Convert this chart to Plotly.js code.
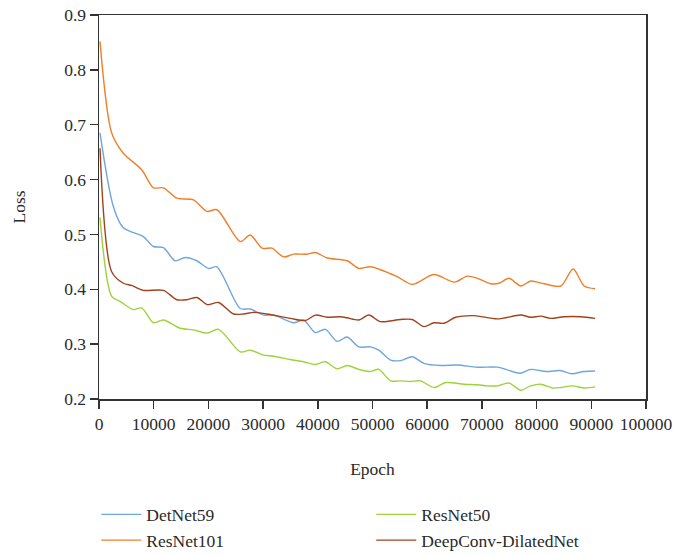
<!DOCTYPE html>
<html>
<head>
<meta charset="utf-8">
<script src="https://cdn.plot.ly/plotly-3.0.1.min.js"></script>
<style>html,body{margin:0;padding:0;background:#fff;}#chart{width:673px;height:555px;}</style>
</head>
<body>
<div id="chart"></div>
<script>
const detX = [180, 2620, 4450, 8110, 9950, 11780, 13920, 15750, 17880, 20020, 21550, 25820, 27650, 30090, 31920, 35580, 37410, 39560, 41390, 43530, 45360, 47500, 49630, 51150, 53300, 55130, 57270, 59400, 62450, 65500, 69170, 72830, 74650, 77000, 78930, 81870, 84300, 86450, 88600, 90700];
const detY = [0.685, 0.551, 0.512, 0.496, 0.478, 0.476, 0.452, 0.458, 0.452, 0.438, 0.441, 0.365, 0.364, 0.353, 0.353, 0.339, 0.344, 0.321, 0.327, 0.305, 0.313, 0.295, 0.295, 0.289, 0.271, 0.270, 0.277, 0.265, 0.261, 0.262, 0.258, 0.258, 0.253, 0.247, 0.254, 0.250, 0.252, 0.246, 0.250, 0.251];

const r101X = [180, 2320, 4450, 7800, 9950, 11780, 14230, 17270, 19720, 21550, 25820, 27650, 29800, 31630, 33750, 35580, 38040, 39560, 41700, 45360, 47500, 49630, 54520, 57270, 61230, 65010, 67340, 69170, 71610, 73130, 74960, 77100, 78930, 81370, 84430, 86680, 88700, 90700];
const r101Y = [0.852, 0.685, 0.648, 0.618, 0.585, 0.585, 0.566, 0.563, 0.542, 0.545, 0.487, 0.499, 0.475, 0.475, 0.459, 0.464, 0.464, 0.467, 0.457, 0.452, 0.438, 0.441, 0.423, 0.409, 0.427, 0.413, 0.424, 0.420, 0.410, 0.411, 0.420, 0.406, 0.415, 0.410, 0.406, 0.437, 0.406, 0.401];

const r50X = [180, 2320, 3850, 6280, 7800, 9950, 11780, 14830, 17270, 19720, 21850, 25820, 27650, 30090, 31920, 34980, 37410, 39560, 41390, 43530, 45360, 47500, 49630, 51150, 53300, 55130, 56960, 58790, 61230, 63370, 66730, 69170, 71000, 72830, 74960, 77100, 78930, 80760, 82900, 84430, 86580, 88700, 90700];
const r50Y = [0.531, 0.387, 0.378, 0.363, 0.366, 0.339, 0.344, 0.329, 0.326, 0.320, 0.327, 0.286, 0.289, 0.280, 0.278, 0.272, 0.268, 0.263, 0.268, 0.255, 0.261, 0.254, 0.250, 0.254, 0.233, 0.233, 0.232, 0.233, 0.221, 0.230, 0.227, 0.226, 0.224, 0.224, 0.229, 0.216, 0.224, 0.227, 0.220, 0.221, 0.224, 0.220, 0.222];

const dcX = [180, 2320, 4450, 5980, 8110, 11780, 14230, 16060, 17880, 19840, 21850, 24600, 26430, 28260, 30700, 34980, 37730, 39560, 41700, 44140, 45360, 47500, 49320, 51460, 55130, 57270, 59400, 61230, 63060, 65200, 68550, 72830, 77100, 78930, 80760, 82600, 85040, 88090, 90700];
const dcY = [0.657, 0.432, 0.411, 0.407, 0.398, 0.398, 0.381, 0.381, 0.385, 0.372, 0.376, 0.355, 0.355, 0.358, 0.355, 0.347, 0.343, 0.353, 0.349, 0.350, 0.348, 0.344, 0.353, 0.341, 0.345, 0.345, 0.332, 0.339, 0.338, 0.349, 0.352, 0.346, 0.353, 0.349, 0.351, 0.347, 0.350, 0.350, 0.347];

const names = ['DetNet59', 'ResNet50', 'ResNet101', 'DeepConv-DilatedNet'];
const colors = ['#6fa6dc', '#9fd13a', '#f07f2a', '#a3411a'];
const xs = [detX, r50X, r101X, dcX];
const ys = [detY, r50Y, r101Y, dcY];

const traces = names.map((n, i) => ({
  x: xs[i], y: ys[i], name: n, type: 'scatter', mode: 'lines',
  line: {color: colors[i], width: 1.4, shape: 'spline', smoothing: 0.8}
}));

const font = {family: '"Liberation Serif", "DejaVu Serif", serif', size: 17.5, color: '#2a2a2a'};

const layout = {
  width: 673, height: 555,
  margin: {l: 99, r: 27, t: 15, b: 156, autoexpand: false},
  paper_bgcolor: '#fff', plot_bgcolor: '#fff',
  font: font,
  showlegend: true,
  xaxis: {
    range: [0, 100000], dtick: 10000, tick0: 0,
    showgrid: false, zeroline: false,
    showline: true, linecolor: '#333', linewidth: 1.5, mirror: true,
    ticks: 'outside', ticklen: 8, tickwidth: 1.5, tickcolor: '#333',
    tickformat: 'd', automargin: false,
    title: {text: 'Epoch', font: font, standoff: 30}
  },
  yaxis: {
    range: [0.2, 0.9], dtick: 0.1, tick0: 0.2,
    showgrid: false, zeroline: false,
    showline: true, linecolor: '#333', linewidth: 1.5, mirror: true,
    ticks: 'outside', ticklen: 8, tickwidth: 1.5, tickcolor: '#333',
    tickformat: '.1f', automargin: false,
    title: {text: 'Loss', font: font, standoff: 34}
  },
  legend: {
    orientation: 'h', x: -0.005, xanchor: 'left', y: -0.254, yanchor: 'top',
    entrywidth: 220, entrywidthmode: 'pixels', itemwidth: 40,
    font: font, traceorder: 'normal', tracegroupgap: 0
  }
};

Plotly.newPlot('chart', traces, layout, {displayModeBar: false, staticPlot: true});
</script>
</body>
</html>
